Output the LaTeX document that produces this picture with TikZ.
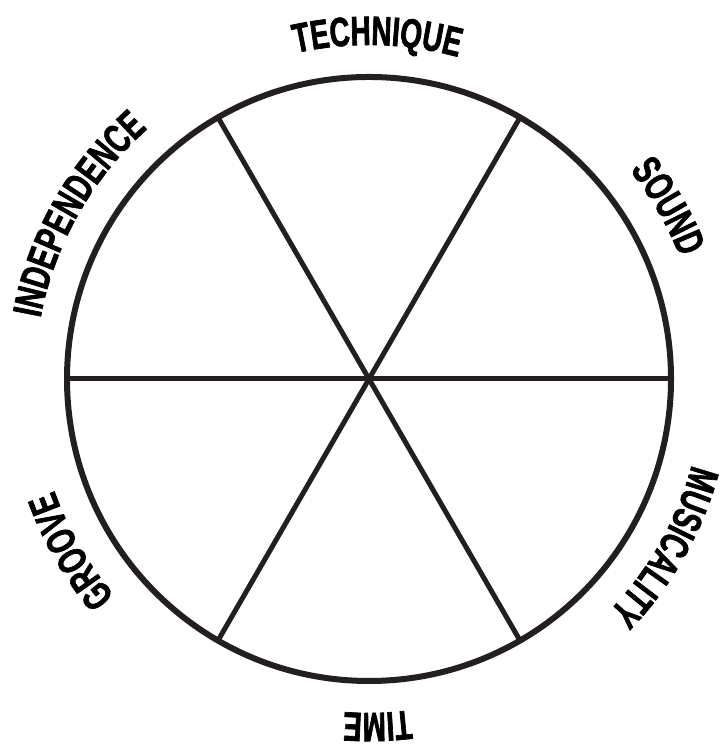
\documentclass[tikz,border=0pt]{standalone}
\usepackage{fontspec}
\newfontfamily\wheelfont[FakeStretch=0.68,FakeBold=1.6]{Liberation Sans}
\usetikzlibrary{calc,decorations.text}
\definecolor{inkdark}{RGB}{35,31,32}
\tikzset{
  wheelrim/.style={draw=inkdark, line width=3pt},
  wheelspoke/.style={draw=inkdark, line width=2.5pt},
  wheellabel/.style={decorate, decoration={text along path, text align=center, text color=black}}
}
% label set along a clockwise arc: #1 = angle of its middle, #2 = word
\newcommand{\wheeltext}[2]{%
  \path[wheellabel, decoration={text={|\wheelfont\bfseries\fontsize{20.5}{20}\selectfont|#2}}]
    ($(hub)+(#1+45:167pt)$) arc[start angle=#1+45, end angle=#1-45, radius=167pt];}

\begin{document}
\begin{tikzpicture}
\useasboundingbox (0,0) rectangle (360.5pt,373.5pt);
\coordinate (hub) at (184.5pt,184pt);
\foreach \a in {0,60,120}
  \draw[wheelspoke] ($(hub)+(\a:151pt)$) -- ($(hub)+(\a+180:151pt)$);
\draw[wheelrim] (hub) circle[radius=151pt];
\wheeltext{88.6}{TECHNIQUE}
\wheeltext{30}{SOUND}
\wheeltext{-29.5}{MUSICALITY}
\wheeltext{-88.6}{TIME}
\wheeltext{-150}{GROOVE}
\wheeltext{150.5}{INDEPENDENCE}
\end{tikzpicture}
\end{document}
